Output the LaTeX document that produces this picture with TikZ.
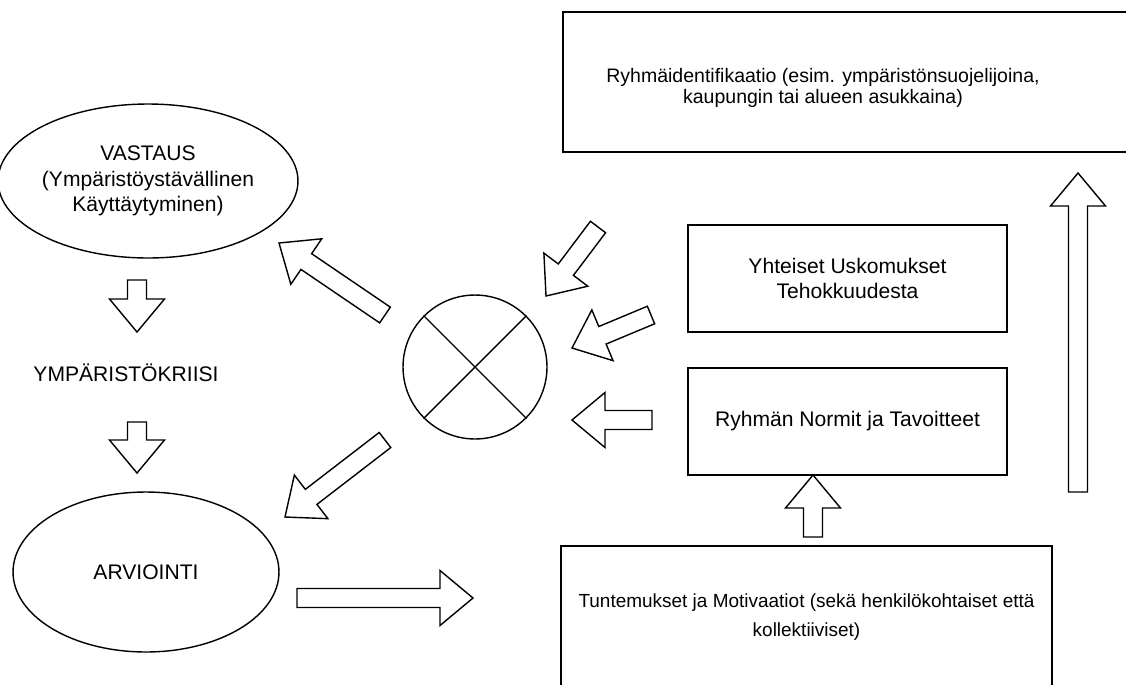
\documentclass[tikz,border=0pt]{standalone}
\usepackage{fontspec}
\setmainfont{Liberation Sans}
\usetikzlibrary{shapes.geometric,calc}

\tikzset{
  txt/.style={font=\fontsize{12}{14.4}\selectfont,align=center},
  box/.style={draw,rectangle,line width=0.8pt,inner sep=0pt},
  oval/.style={draw,ellipse,line width=0.8pt,inner sep=0pt},
  fat/.style={draw,line width=0.8pt,line join=miter}
}

% hollow block arrow from #1 to #2
\newcommand{\fatarrow}[2]{%
  \coordinate (fah) at ($(#2)!0.66cm!(#1)$);
  \draw [fat] ($(#1)!0.19cm!90:(#2)$) -- ($(fah)!0.19cm!90:(#2)$)
    -- ($(fah)!0.55cm!90:(#2)$) -- (#2)
    -- ($(fah)!0.55cm!-90:(#2)$) -- ($(fah)!0.19cm!-90:(#2)$)
    -- ($(#1)!0.19cm!-90:(#2)$) -- cycle;}

\begin{document}
\begin{tikzpicture}[x=0.02cm,y=-0.02cm,every node/.style={txt}]
\useasboundingbox (0,0) rectangle (1126,684);
\clip (0,0) rectangle (1126,684);

% left column
\node [oval,minimum width=5.4cm,minimum height=3.08cm] (resp) at(148,181){VASTAUS\\(Ympäristöystävällinen\\Käyttäytyminen)};
\node (crisis) at(126,373){YMPÄRISTÖKRIISI};
\node [oval,minimum width=5.32cm,minimum height=3.2cm] (appr) at(146,572){ARVIOINTI};

% the mixing circle
\node [draw,circle,line width=0.8pt,minimum size=2.88cm,inner sep=0pt] (mix) at(475,367){};
\draw [line width=0.8pt] (mix.45) -- (mix.225) (mix.135) -- (mix.-45);

% right column
\node [box,minimum width=12.4cm,minimum height=2.8cm] (ident) at(873,82){};
\node [font=\fontsize{11.1}{12.4}\selectfont] (identtxt) at(823,88){Ryhmäidentifikaatio (esim. ympäristönsuojelijoina,\\kaupungin tai alueen asukkaina)};
\node [box,minimum width=6.38cm,minimum height=2.14cm] (belief) at(847.5,278.5){Yhteiset Uskomukset\\Tehokkuudesta};
\node [box,minimum width=6.38cm,minimum height=2.14cm] (norms) at(847.5,421.5){Ryhmän Normit ja Tavoitteet};
\node [box,minimum width=9.82cm,minimum height=2.84cm,font=\fontsize{10.8}{16.4}\selectfont] (feel) at(806.5,617){Tuntemukset ja Motivaatiot (sekä henkilökohtaiset että\\kollektiiviset)};

% arrow ends
\coordinate (mr0) at (385,315);  \coordinate (mr1) at (279,243);
\coordinate (ma0) at (385,440);  \coordinate (ma1) at (285,517);
\coordinate (rc0) at (137,280);  \coordinate (rc1) at (137,332);
\coordinate (ca0) at (137,422);  \coordinate (ca1) at (137,473);
\coordinate (af0) at (297,598);  \coordinate (af1) at (473,598);
\coordinate (im0) at (598,227);  \coordinate (im1) at (546,296);
\coordinate (bm0) at (651,315);  \coordinate (bm1) at (572,348);
\coordinate (nm0) at (652,420);  \coordinate (nm1) at (572,420);
\coordinate (fn0) at (813,537);  \coordinate (fn1) at (813,475);
\coordinate (fi0) at (1078,492); \coordinate (fi1) at (1078,173);

\fatarrow{mr0}{mr1}
\fatarrow{ma0}{ma1}
\fatarrow{rc0}{rc1}
\fatarrow{ca0}{ca1}
\fatarrow{af0}{af1}
\fatarrow{im0}{im1}
\fatarrow{bm0}{bm1}
\fatarrow{nm0}{nm1}
\fatarrow{fn0}{fn1}
\fatarrow{fi0}{fi1}
\end{tikzpicture}
\end{document}
